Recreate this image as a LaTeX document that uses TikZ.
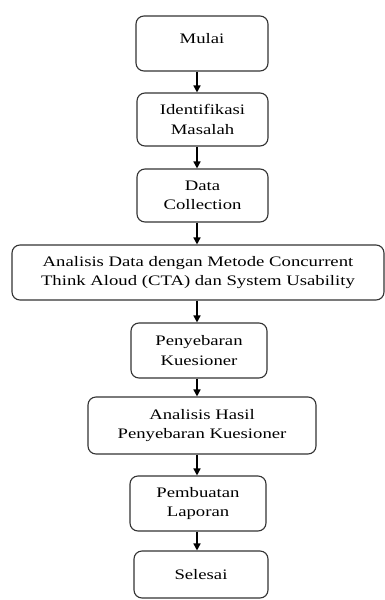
\documentclass[tikz,border=0pt]{standalone}
\usepackage{fontspec}
\setmainfont{Liberation Serif}[FakeStretch=1.29]
\usetikzlibrary{arrows.meta}
\begin{document}
\begin{tikzpicture}[x=1pt,y=-1pt,
  box/.style={draw=black!80, line width=1.1pt, rounded corners=8pt, align=center,
    inner sep=0pt, font=\fontsize{14.5}{19.5}\selectfont},
  flow/.style={line width=1.6pt, -{Triangle[length=7pt,width=7pt]}}]
\useasboundingbox (0,0) rectangle (385,600);
\node[box, minimum width=132pt, minimum height=55pt] (n1) at (202,43.5) {Mulai\\[-8.5pt]{}};
\node[box, minimum width=131pt, minimum height=53pt] (n2) at (202.5,119.5) {Identifikasi\\Masalah};
\node[box, minimum width=131pt, minimum height=53pt] (n3) at (202.5,195.5) {Data\\Collection};
\node[box, minimum width=372pt, minimum height=55pt] (n4) at (198,272.5) {Analisis Data dengan Metode Concurrent\\Think Aloud (CTA) dan System Usability};
\node[box, minimum width=136pt, minimum height=55pt] (n5) at (199,350.5) {Penyebaran\\Kuesioner};
\node[box, minimum width=228pt, minimum height=57pt] (n6) at (202,425.5) {Analisis Hasil\\Penyebaran Kuesioner};
\node[box, minimum width=136pt, minimum height=55pt] (n7) at (198,503.5) {Pembuatan\\Laporan};
\node[box, minimum width=134pt, minimum height=47pt] (n8) at (201,574.5) {Selesai};
\draw[flow] (n1.south -| 197,0) -- (n2.north -| 197,0);
\draw[flow] (n2.south -| 197,0) -- (n3.north -| 197,0);
\draw[flow] (n3.south -| 197,0) -- (n4.north -| 197,0);
\draw[flow] (n4.south -| 197,0) -- (n5.north -| 197,0);
\draw[flow] (n5.south -| 197,0) -- (n6.north -| 197,0);
\draw[flow] (n6.south -| 197,0) -- (n7.north -| 197,0);
\draw[flow] (n7.south -| 197,0) -- (n8.north -| 197,0);
\end{tikzpicture}
\end{document}
